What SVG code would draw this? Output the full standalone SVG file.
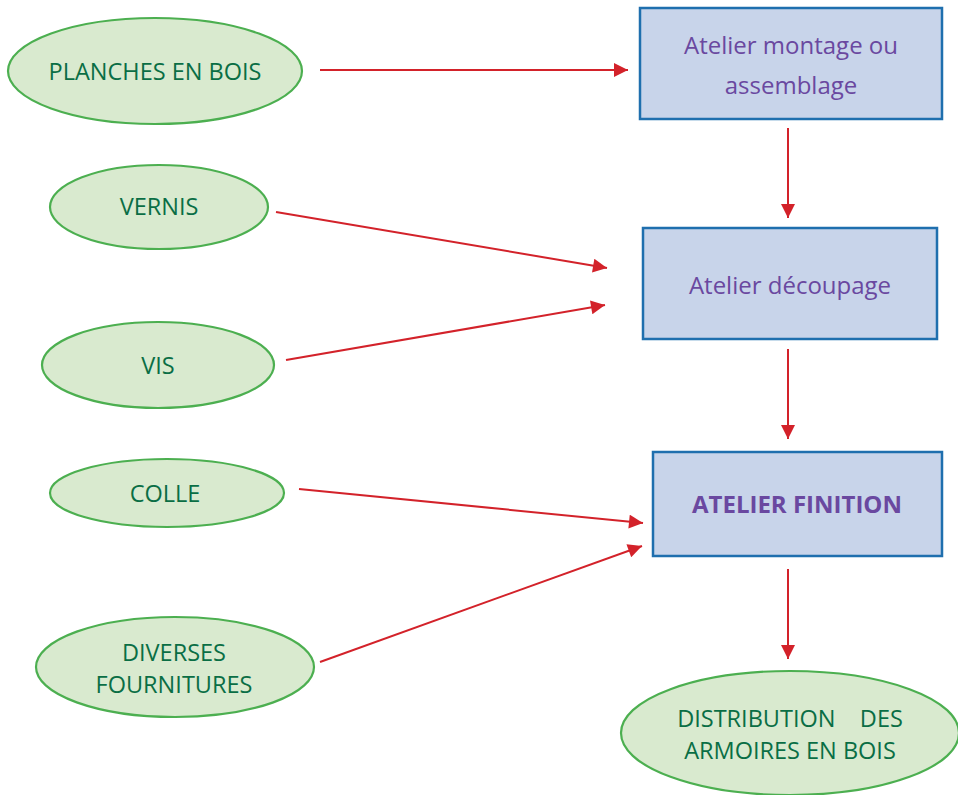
<svg xmlns="http://www.w3.org/2000/svg" width="958" height="795" viewBox="0 0 958 795">
<defs>
<style>
.ell{fill:#d9eacf;stroke:#4caf50;stroke-width:2.2}
.box{fill:#c8d4ea;stroke:#1f6fae;stroke-width:2.5}
.gt{font-family:"Open Sans","Liberation Sans",sans-serif;font-size:23.5px;fill:#0a6e45;text-anchor:middle}
.pt{font-family:"Open Sans","Liberation Sans",sans-serif;font-size:24px;fill:#6a48a0;text-anchor:middle}
.conn line{stroke:#d3222a;stroke-width:2}
</style>
<marker id="ah" viewBox="0 0 10 10" refX="10" refY="5" markerWidth="9" markerHeight="7" markerUnits="strokeWidth" orient="auto">
<path d="M0,0 L10,5 L0,10 z" fill="#d3222a"/>
</marker>
</defs>
<rect width="958" height="795" fill="#ffffff"/>
<g class="conn">
<line x1="320" y1="70" x2="628" y2="70" marker-end="url(#ah)"/>
<line x1="788" y1="128" x2="788" y2="218" marker-end="url(#ah)"/>
<line x1="276" y1="212" x2="607" y2="268" marker-end="url(#ah)"/>
<line x1="286" y1="360" x2="605" y2="305" marker-end="url(#ah)"/>
<line x1="788" y1="349" x2="788" y2="439" marker-end="url(#ah)"/>
<line x1="299" y1="489" x2="643" y2="523" marker-end="url(#ah)"/>
<line x1="320" y1="662" x2="642" y2="546" marker-end="url(#ah)"/>
<line x1="788" y1="569" x2="788" y2="659" marker-end="url(#ah)"/>
</g>
<g id="planches"><ellipse class="ell" cx="155" cy="71" rx="147" ry="53"/><text class="gt" x="155" y="80">PLANCHES EN BOIS</text></g>
<g id="vernis"><ellipse class="ell" cx="159" cy="207" rx="109" ry="42"/><text class="gt" x="159" y="215">VERNIS</text></g>
<g id="vis"><ellipse class="ell" cx="158" cy="365" rx="116" ry="43"/><text class="gt" x="158" y="374">VIS</text></g>
<g id="colle"><ellipse class="ell" cx="167" cy="493" rx="117" ry="34"/><text class="gt" x="165" y="502">COLLE</text></g>
<g id="diverses"><ellipse class="ell" cx="175" cy="667" rx="139" ry="50"/><text class="gt" x="174" y="661">DIVERSES</text><text class="gt" x="174" y="693">FOURNITURES</text></g>
<g id="distribution"><ellipse class="ell" cx="790" cy="733" rx="169" ry="62"/><text class="gt" x="790" y="727" xml:space="preserve">DISTRIBUTION    DES</text><text class="gt" x="790" y="759">ARMOIRES EN BOIS</text></g>
<g id="montage"><rect class="box" x="640" y="8" width="302" height="111"/><text class="pt" x="791" y="54">Atelier montage ou</text><text class="pt" x="791" y="94">assemblage</text></g>
<g id="decoupage"><rect class="box" x="643" y="228" width="294" height="111"/><text class="pt" x="790" y="294">Atelier découpage</text></g>
<g id="finition"><rect class="box" x="653" y="452" width="289" height="104"/><text class="pt" x="797" y="513" font-weight="bold" font-size="23">ATELIER FINITION</text></g>
</svg>
